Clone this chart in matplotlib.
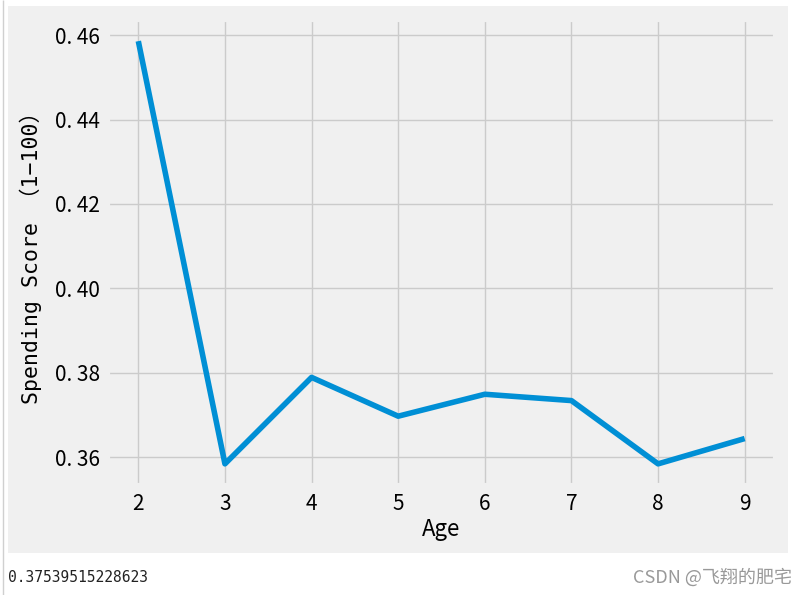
import numpy as np
import matplotlib.pyplot as plt
import matplotlib
from matplotlib.patches import Rectangle
from matplotlib.lines import Line2D

plt.style.use('fivethirtyeight')
matplotlib.rcParams['font.family'] = ['Noto Sans CJK SC', 'DejaVu Sans']
matplotlib.rcParams['axes.unicode_minus'] = False

# data
ages = [2, 3, 4, 5, 6, 7, 8, 9]
score = [0.4586, 0.3584, 0.3789, 0.3697, 0.3749, 0.3734, 0.3584, 0.3644]
printed = '0.37539515228623'

W, H = 808, 595
fig = plt.figure(figsize=(W / 100, H / 100), dpi=100, facecolor='white')

# notebook output area
fig.patches.append(Rectangle((8 / W, 1 - 553 / H), 780 / W, 547 / H,
                             transform=fig.transFigure, facecolor='#f0f0f0',
                             edgecolor='none', zorder=-10))
fig.lines.append(Line2D([2.5 / W, 2.5 / W], [0, 1], transform=fig.transFigure,
                        color='#d0d0d0', linewidth=1, zorder=-10))

mono = ['DejaVu Sans Mono', 'Noto Sans CJK SC']

ax = fig.add_axes([108 / W, 1 - 485 / H, 667 / W, 465 / H])
ax.set_facecolor('#f0f0f0')
ax.plot(ages, score, color='#008fd5', linewidth=4)
ax.set_xlabel('Age', fontsize=16, labelpad=2)
ax.set_ylabel('Spending Score （1−100）', fontsize=15.5, labelpad=9,
              family=mono)
ax.tick_params(labelsize=15, pad=6)
ax.set_yticks([0.36, 0.38, 0.40, 0.42, 0.44, 0.46])
ax.set_yticklabels(['0. 36', '0. 38', '0. 40', '0. 42', '0. 44', '0. 46'])

fig.text(8 / W, 1 - 577 / H, printed, fontsize=10.5, va='center', ha='left',
         family=mono, color='#222222')
fig.text(792 / W, 1 - 577 / H, 'CSDN @飞翔的肥宅', fontsize=13, va='center',
         ha='right', color='#999999')

fig.savefig('out.png', dpi=100, facecolor='white')
